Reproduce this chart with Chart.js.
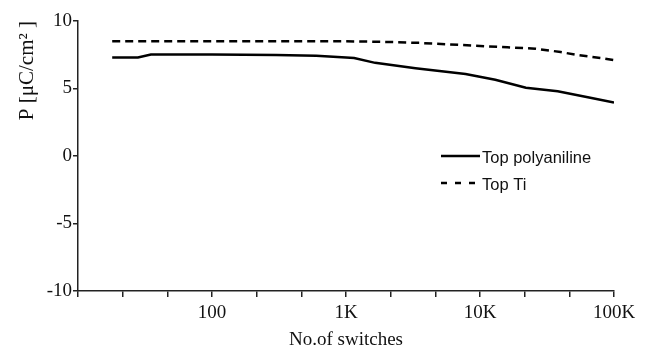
<!DOCTYPE html>
<html>
<head>
<meta charset="utf-8">
<script src="https://cdn.jsdelivr.net/npm/chart.js@4.4.0/dist/chart.umd.min.js"></script>
<style>
  html, body { margin: 0; padding: 0; background: #fff; }
  #wrap { width: 649px; height: 350px; }
</style>
</head>
<body>
<div id="wrap"><canvas id="chart"></canvas></div>
<script>
// values
const polySwitches = [18, 28, 35, 100, 300, 600, 1000, 1150, 1650, 3300, 7800, 13000, 22000, 38000, 68000, 100000];
const polyP        = [7.3, 7.3, 7.52, 7.52, 7.48, 7.42, 7.3, 7.26, 6.9, 6.5, 6.08, 5.65, 5.05, 4.8, 4.3, 3.97];
const tiSwitches   = [18, 1000, 2000, 3500, 8000, 16000, 26000, 40000, 55000, 80000, 100000];
const tiP          = [8.5, 8.5, 8.45, 8.38, 8.2, 8.05, 7.95, 7.7, 7.46, 7.25, 7.1];
const seriesNames  = ['Top polyaniline', 'Top Ti'];
const decadeLabels = { 100: '100', 1000: '1K', 10000: '10K', 100000: '100K' };

const toPoints = (xs, ys) => xs.map((x, i) => ({ x: x, y: ys[i] }));

const serif = '"Liberation Serif", "Times New Roman", serif';
const ink = '#111';

const insideLegend = {
  id: 'insideLegend',
  afterDraw(chart) {
    const ctx = chart.ctx;
    chart.data.datasets.forEach((ds, i) => {
      const y = 156 + i * 27;
      ctx.save();
      ctx.strokeStyle = ds.borderColor;
      ctx.lineWidth = ds.borderWidth;
      ctx.setLineDash(i ? [6, 8] : []);
      ctx.beginPath();
      ctx.moveTo(441, y);
      ctx.lineTo(480, y);
      ctx.stroke();
      ctx.setLineDash([]);
      ctx.fillStyle = ink;
      ctx.font = '16.5px "Liberation Sans", Arial, sans-serif';
      ctx.textBaseline = 'alphabetic';
      ctx.fillText(ds.label, 482, y + 7);
      ctx.restore();
    });
  }
};

new Chart(document.getElementById('chart'), {
  type: 'line',
  data: {
    datasets: [
      {
        label: seriesNames[0],
        data: toPoints(polySwitches, polyP),
        borderColor: '#000',
        borderWidth: 2.5,
        pointRadius: 0,
        tension: 0
      },
      {
        label: seriesNames[1],
        data: toPoints(tiSwitches, tiP),
        borderColor: '#000',
        borderWidth: 2.5,
        borderDash: [8, 5],
        pointRadius: 0,
        tension: 0
      }
    ]
  },
  options: {
    responsive: true,
    maintainAspectRatio: false,
    animation: false,
    layout: { padding: { top: 21, right: 35, left: 0, bottom: 0 } },
    plugins: { legend: { display: false }, tooltip: { enabled: false } },
    scales: {
      x: {
        type: 'logarithmic',
        min: 10,
        max: 100000,
        afterBuildTicks(scale) {
          const t = [];
          for (let k = 3; k <= 15; k++) t.push({ value: Math.pow(10, k / 3) });
          scale.ticks = t;
        },
        afterFit(scale) { scale.height = 59; },
        border: { display: true, color: '#222', width: 1.5 },
        grid: { drawOnChartArea: false, drawTicks: true, tickLength: 6, color: '#222', lineWidth: 1.5 },
        ticks: {
          autoSkip: false,
          maxRotation: 0,
          padding: 5,
          color: ink,
          font: { family: serif, size: 19 },
          callback(value) {
            const r = Math.round(value);
            return decadeLabels[r] && Math.abs(value - r) < 1e-6 ? decadeLabels[r] : '';
          }
        },
        title: {
          display: true,
          text: 'No.of switches',
          color: ink,
          font: { family: serif, size: 19, lineHeight: 1 },
          padding: 0
        }
      },
      y: {
        min: -10,
        max: 10,
        afterFit(scale) { scale.width = 78; },
        border: { display: true, color: '#222', width: 1.5 },
        grid: { drawOnChartArea: false, drawTicks: true, tickLength: 5, color: '#222', lineWidth: 1.5 },
        ticks: {
          stepSize: 5,
          padding: 1,
          color: ink,
          font: { family: serif, size: 19 }
        },
        title: {
          display: true,
          text: 'P [μC/cm² ]',
          align: 'end',
          color: ink,
          font: { family: serif, size: 21 },
          padding: { top: 15, bottom: 0 }
        }
      }
    }
  },
  plugins: [insideLegend]
});
</script>
</body>
</html>
